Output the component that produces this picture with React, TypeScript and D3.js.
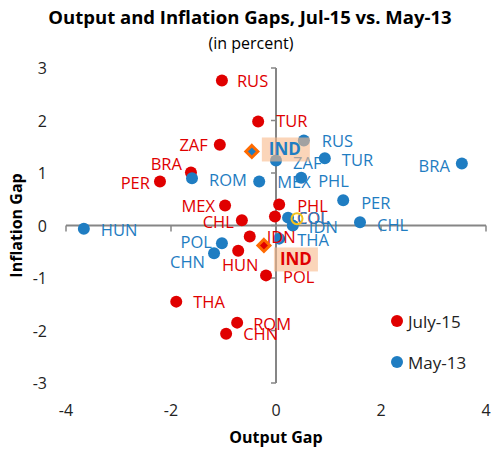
import React from "react";
import * as d3 from "d3";

const countriesJul15 = ["RUS","TUR","ZAF","BRA","PER","MEX","CHL","PHL","COL","IDN","IND","HUN","POL","THA","ROM","CHN"];
const outputJul15 = [-1.03,-0.34,-1.07,-1.62,-2.21,-0.97,-0.65,0.06,-0.02,-0.50,-0.23,-0.72,-0.19,-1.90,-0.74,-0.95];
const inflationJul15 = [2.76,1.98,1.54,1.01,0.84,0.38,0.10,0.40,0.17,-0.21,-0.38,-0.48,-0.95,-1.45,-1.85,-2.06];

const countriesMay13 = ["HUN","BRA","RUS","TUR","ZAF","PHL","MEX","ROM","PER","CHL","COL","IDN","THA","POL","CHN","IND"];
const outputMay13 = [-3.66,3.54,0.53,0.93,0.0,0.48,-0.32,-1.60,1.28,1.60,0.23,0.32,0.06,-1.03,-1.18,-0.46];
const inflationMay13 = [-0.06,1.18,1.62,1.28,1.24,0.91,0.84,0.90,0.48,0.06,0.15,0.0,-0.25,-0.34,-0.53,1.41];

const ringPoint = [0.40, 0.13];

const xTicks = [-4,-2,0,2,4];
const yTicks = [-3,-2,-1,0,1,2,3];

const seriesNames = ["July-15","May-13"];
const highlight = "IND";

// label placement (style): [dx, dy, anchor]
const labelJul15: Record<string, [number, number, string]> = {
  RUS:[15,1,"start"], TUR:[18,0,"start"], ZAF:[-12,1,"end"], BRA:[-9,-8,"end"], PER:[-10,2,"end"],
  MEX:[-10,1,"end"], CHL:[-8,2,"end"], PHL:[18,2,"start"], COL:[22,2,"start"], IDN:[17,1,"start"],
  HUN:[2,15,"middle"], POL:[17,2,"start"], THA:[17,1,"start"], ROM:[16,2,"start"], CHN:[17,1,"start"],
};
const labelMay13: Record<string, [number, number, string]> = {
  HUN:[17,2,"start"], BRA:[-12,3,"end"], RUS:[18,1,"start"], TUR:[17,2,"start"], ZAF:[17,3,"start"],
  PHL:[17,3,"start"], MEX:[18,1,"start"], ROM:[17,2,"start"], PER:[18,3,"start"], CHL:[17,3,"start"],
  COL:[9,1,"start"], IDN:[16,2,"start"], THA:[18,2,"start"], POL:[-10,-1,"end"], CHN:[-9,9,"end"],
};

const RED = "#e00000";
const BLUE = "#1f7dc2";
const FONT = "'Open Sans', 'Noto Sans', sans-serif";
const LBL = 16.5;

export default function App() {
  const W = 492, H = 449;
  const x = d3.scaleLinear().domain([-4, 4]).range([66, 486]);
  const y = d3.scaleLinear().domain([-3, 3]).range([383, 68]);
  const x0 = x(0), y0 = y(0);

  const red = countriesJul15.map((c, i) => ({ c, px: x(outputJul15[i]), py: y(inflationJul15[i]) }));
  const blue = countriesMay13.map((c, i) => ({ c, px: x(outputMay13[i]), py: y(inflationMay13[i]) }));

  const diamond = (cx: number, cy: number, r: number) =>
    `M${cx},${cy - r}L${cx + r},${cy}L${cx},${cy + r}L${cx - r},${cy}Z`;

  const redInd = red.find(d => d.c === highlight)!;
  const blueInd = blue.find(d => d.c === highlight)!;

  return (
    <svg width={W} height={H} style={{ position: "absolute", left: 0, top: 0 }} fontFamily={FONT}>
      <rect width={W} height={H} fill="#fff" />
      <text x={250} y={24} textAnchor="middle" fontSize={18.5} fontWeight="bold" fill="#000">
        Output and Inflation Gaps, Jul-15 vs. May-13
      </text>
      <text x={251} y={49} textAnchor="middle" fontSize={16} fill="#000">(in percent)</text>

      {/* axes */}
      <line x1={x(-4)} x2={x(4)} y1={y0} y2={y0} stroke="#868686" strokeWidth={2} />
      <line x1={x0} x2={x0} y1={y(3)} y2={y(-3)} stroke="#868686" strokeWidth={2} />
      {xTicks.map(t => (
        <line key={"xt" + t} x1={x(t)} x2={x(t)} y1={y0} y2={y0 + 6} stroke="#868686" strokeWidth={1.5} />
      ))}
      {yTicks.map(t => (
        <line key={"yt" + t} x1={x0 - 5} x2={x0} y1={y(t)} y2={y(t)} stroke="#868686" strokeWidth={1.5} />
      ))}
      {xTicks.map(t => (
        <text key={"xl" + t} x={x(t)} y={416} textAnchor="middle" fontSize={16} fill="#222">{t}</text>
      ))}
      {yTicks.map(t => (
        <text key={"yl" + t} x={47} y={y(t) + 6} textAnchor="end" fontSize={16} fill="#222">{t}</text>
      ))}
      <text x={x0} y={443} textAnchor="middle" fontSize={16} fontWeight="bold" fill="#000">Output Gap</text>
      <text transform={`translate(22,${y0}) rotate(-90)`} textAnchor="middle" fontSize={16} fontWeight="bold" fill="#000">
        Inflation Gap
      </text>

      {/* red points */}
      {red.filter(d => d.c !== highlight).map(d => (
        <circle key={"r" + d.c} cx={d.px} cy={d.py} r={6} fill={RED} />
      ))}
      {/* blue points */}
      {blue.filter(d => d.c !== highlight).map(d => (
        <circle key={"b" + d.c} cx={d.px} cy={d.py} r={6} fill={BLUE} />
      ))}

      {/* labels */}
      {red.filter(d => d.c !== highlight).map(d => {
        const [dx, dy, a] = labelJul15[d.c];
        return (
          <text key={"rl" + d.c} x={d.px + dx} y={d.py + dy} dy="0.35em" textAnchor={a as any} fontSize={LBL} fill={RED}>{d.c}</text>
        );
      })}
      {blue.filter(d => d.c !== highlight).map(d => {
        const [dx, dy, a] = labelMay13[d.c];
        return (
          <text key={"bl" + d.c} x={d.px + dx} y={d.py + dy} dy="0.35em" textAnchor={a as any} fontSize={LBL} fill={BLUE}>{d.c}</text>
        );
      })}
      <circle cx={x(ringPoint[0])} cy={y(ringPoint[1])} r={5.5} fill="none" stroke="#f2c11c" strokeWidth={2} />

      {/* highlighted IND */}
      <path d={diamond(blueInd.px, blueInd.py, 6)} fill={BLUE} stroke="#ff6a00" strokeWidth={3} />
      <path d={diamond(redInd.px, redInd.py, 6)} fill={RED} stroke="#ff6a00" strokeWidth={3} />
      <rect x={blueInd.px + 10} y={blueInd.py - 14} width={48} height={24} fill="#f8b98a" opacity={0.6} />
      <text x={blueInd.px + 33} y={blueInd.py - 2} dy="0.35em" textAnchor="middle" fontSize={17} fontWeight="bold" fill={BLUE}>IND</text>
      <rect x={redInd.px + 10} y={redInd.py + 2} width={44} height={24} fill="#f8b98a" opacity={0.6} />
      <text x={redInd.px + 32} y={redInd.py + 14} dy="0.35em" textAnchor="middle" fontSize={17} fontWeight="bold" fill={RED}>IND</text>

      {/* legend */}
      <circle cx={397} cy={321} r={6} fill={RED} />
      <text x={408} y={322} dy="0.35em" fontSize={17} fill="#222">{seriesNames[0]}</text>
      <circle cx={397} cy={362} r={6} fill={BLUE} />
      <text x={408} y={363} dy="0.35em" fontSize={17} fill="#222">{seriesNames[1]}</text>
    </svg>
  );
}
